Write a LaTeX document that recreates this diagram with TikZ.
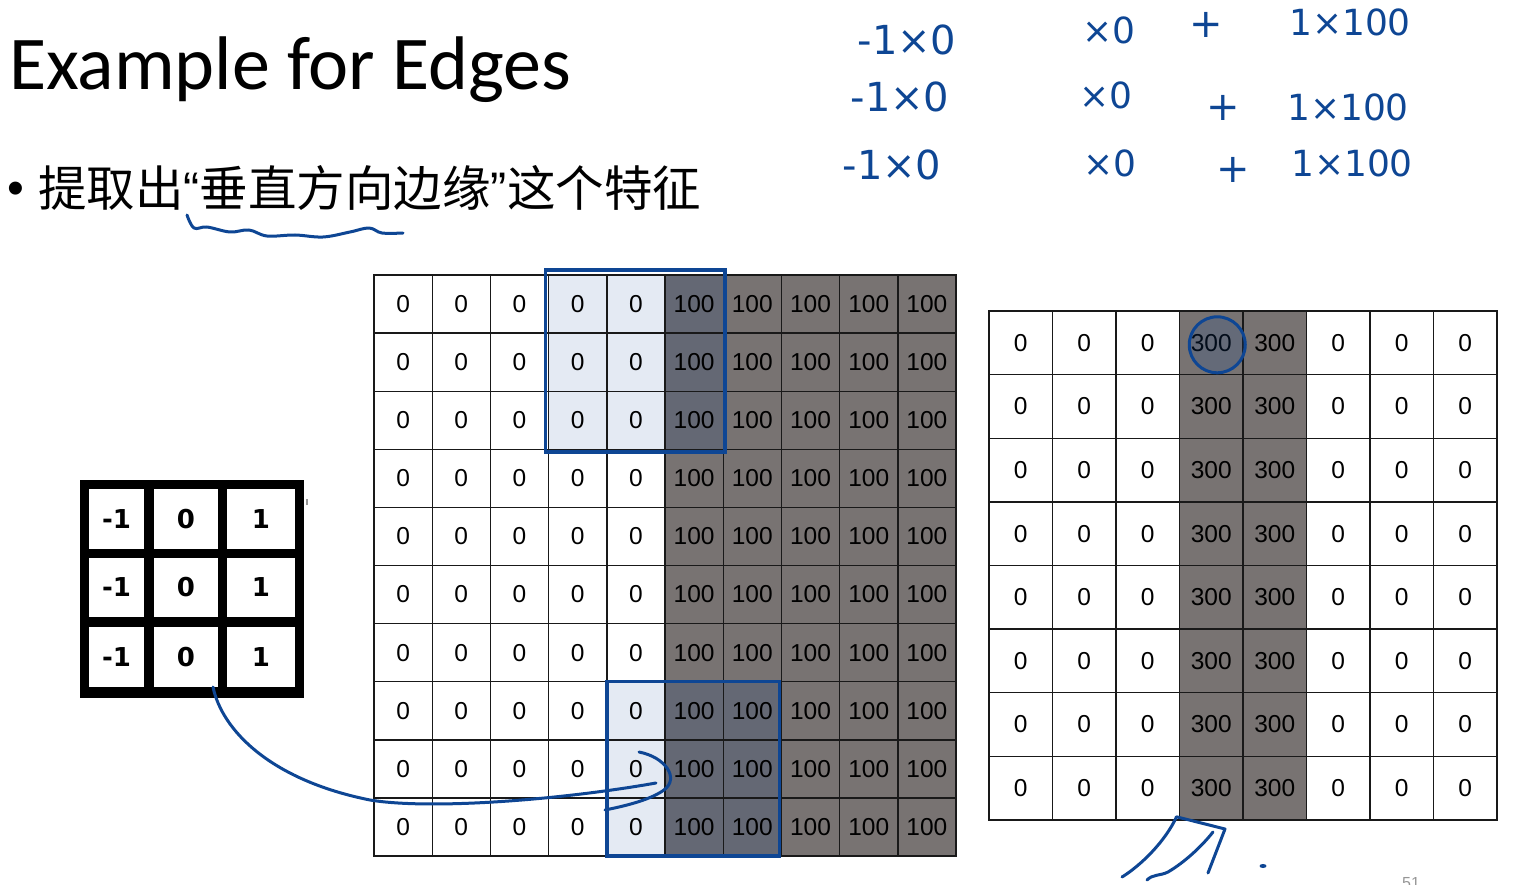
\documentclass[tikz,border=0pt]{standalone}
\usepackage{fontspec}
\setmainfont{Liberation Sans}
\newfontfamily\titlefont{Carlito}
\newfontfamily\cjkfont{Noto Sans CJK SC}
\newfontfamily\kfont{DejaVu Sans}
\newfontfamily\inkfont{DejaVu Sans}
\definecolor{ink}{RGB}{14,70,148}
\definecolor{cellgray}{RGB}{120,115,114}
\definecolor{celldark}{RGB}{100,104,116}
\definecolor{celllight}{RGB}{228,234,243}
\definecolor{gridline}{RGB}{25,25,25}
\definecolor{pagegray}{RGB}{150,150,150}
\begin{document}
\begin{tikzpicture}[x=1pt,y=-1pt,
  mcell/.style={draw=gridline, line width=1.4pt, minimum width=58.2pt, minimum height=58.1pt,
    inner sep=0pt, outer sep=0pt, font=\fontsize{24.5}{24.5}\selectfont},
  rcell/.style={draw=gridline, line width=1.4pt, minimum width=63.5pt, minimum height=63.6pt,
    inner sep=0pt, outer sep=0pt, font=\fontsize{24.5}{24.5}\selectfont},
  kcell/.style={fill=white, inner sep=0pt, outer sep=0pt, font=\kfont\bfseries\fontsize{26}{26}\selectfont},
  hbox/.style={draw=ink, line width=3.5pt},
  inkline/.style={draw=ink, line width=3pt, line cap=round, line join=round},
  inktext/.style={text=ink, inner sep=0pt, font=\inkfont\fontsize{40}{40}\selectfont},
  inksmall/.style={text=ink, inner sep=0pt, font=\inkfont\fontsize{36}{36}\selectfont}]
\useasboundingbox (0,0) rectangle (1513,885);

% title and bullet
\node[anchor=base west, inner sep=0pt, font=\titlefont\fontsize{76}{76}\selectfont] (title) at (9,90) {Example for Edges};
\node[anchor=base, inner sep=0pt, font=\fontsize{48}{48}\selectfont] (bullet) at (16,205) {•};
\node[anchor=base west, inner sep=0pt, font=\cjkfont\fontsize{48.5}{48.5}\selectfont] (bline) at (38,207)
  {提取出{\rmfamily “}垂直方向边缘{\rmfamily ”}这个特征};
\draw[inkline] plot[smooth, tension=0.6] coordinates {(187,215) (194,228) (207,227) (230,232) (249,230) (267,236) (295,235) (323,237) (350,232) (369,228) (382,233) (403,233)};

% handwritten calculation
\node[inktext] (h11) at (907,40) {-1×0};
\node[inksmall] (h12) at (1109,30) {×0};
\node[inktext] (h13) at (1206,25) {+};
\node[inksmall] (h14) at (1350,22) {1×100};
\node[inktext] (h21) at (900,97) {-1×0};
\node[inksmall] (h22) at (1106,95) {×0};
\node[inktext] (h23) at (1223,108) {+};
\node[inksmall] (h24) at (1348,107) {1×100};
\node[inktext] (h31) at (892,165) {-1×0};
\node[inksmall] (h32) at (1110,163) {×0};
\node[inktext] (h33) at (1233,170) {+};
\node[inksmall] (h34) at (1352,163) {1×100};

% kernel
\node[fill=black, minimum width=224pt, minimum height=218pt, inner sep=0pt, outer sep=0pt, anchor=north west] (kernel) at (80,480) {};
\foreach \r/\y/\h in {0/519/60,1/587.5/59,2/657/60}{
  \foreach \c/\x/\w/\v in {0/116.5/55/-1,1/186/64/0,2/261/68/1}{
    \node[kcell, minimum width=\w pt, minimum height=\h pt] (k-\r-\c) at (\x,\y) {\v};
  }
}
\draw[pagegray, line width=1.5pt] (307,499) -- (307,505);

% input image
\foreach \r in {0,...,9}{
  \foreach \c in {0,...,9}{
    \pgfmathsetmacro\xx{374+58.2*(\c+0.5)}
    \pgfmathsetmacro\yy{275+58.1*(\r+0.5)}
    \ifnum\c<5\relax\def\val{0}\def\fc{white}\else\def\val{100}\def\fc{cellgray}\fi
    \ifnum\r<3\relax
      \ifnum\c=3\relax\def\fc{celllight}\fi
      \ifnum\c=4\relax\def\fc{celllight}\fi
      \ifnum\c=5\relax\def\fc{celldark}\fi
    \fi
    \ifnum\r>6\relax
      \ifnum\c=4\relax\def\fc{celllight}\fi
      \ifnum\c=5\relax\def\fc{celldark}\fi
      \ifnum\c=6\relax\def\fc{celldark}\fi
    \fi
    \node[mcell, fill=\fc] (m-\r-\c) at (\xx,\yy) {\val};
  }
}
\draw[hbox] ([shift={(-3pt,5pt)}]m-0-3.north west) rectangle ([shift={(2pt,-2.5pt)}]m-2-5.south east);
\draw[hbox] (m-7-4.north west) rectangle ([shift={(-2pt,0pt)}]m-9-6.south east);

% output image
\foreach \r in {0,...,7}{
  \foreach \c in {0,...,7}{
    \pgfmathsetmacro\xx{989+63.5*(\c+0.5)}
    \pgfmathsetmacro\yy{311+63.6*(\r+0.5)}
    \def\val{0}\def\fc{white}
    \ifnum\c=3\relax\def\val{300}\def\fc{cellgray}\fi
    \ifnum\c=4\relax\def\val{300}\def\fc{cellgray}\fi
    \node[rcell, fill=\fc] (r-\r-\c) at (\xx,\yy) {\val};
  }
}
\draw[ink, line width=3pt, fill=ink, fill opacity=0.18] ([shift={(6pt,-2pt)}]r-0-3.center) circle (28pt);

% connector from kernel to the input image
\coordinate (tip) at (656,783);
\draw[inkline] ([xshift=-5pt]k-2-1.south east) .. controls (222,730) and (270,780) .. (370,800)
  .. controls (430,810) and (560,800) .. (tip);
\draw[inkline] (639,752) .. controls (665,757) and (680,778) .. (664,790)
  .. controls (650,800) and (625,806) .. (605,810);

% double arrow to the output
\coordinate (atip) at ([shift={(-3pt,3pt)}]r-7-3.south west);
\draw[inkline] (1122,877) .. controls (1140,866) and (1165,842) .. (atip) -- (1225,829) -- (1208,873);
\draw[inkline] (1147,880) .. controls (1153,874) and (1160,876) .. (1168,872)
  .. controls (1185,862) and (1202,846) .. (1213,832);
\fill[ink] (1263,866) ellipse (3.5pt and 2pt);

\node[anchor=base, inner sep=0pt, text=pagegray, font=\fontsize{16}{16}\selectfont] (pg) at (1411,888) {51};
\end{tikzpicture}
\end{document}
